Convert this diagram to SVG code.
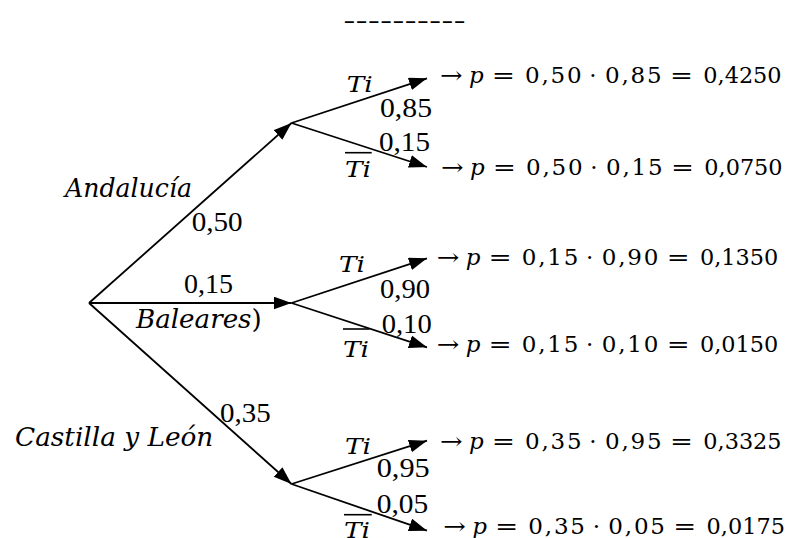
<svg xmlns="http://www.w3.org/2000/svg" width="791" height="538" viewBox="0 0 791 538">
<style>
.ln{stroke:#000;stroke-width:1.8;fill:none}
.ov{stroke:#000;stroke-width:1.6}
.f{font-family:"DejaVu Serif","Liberation Serif",serif;font-size:23px;fill:#000}
.fi{font-style:italic}
.lab{font-family:"Liberation Serif",serif;font-size:27px;fill:#000}
.it{font-family:"DejaVu Serif","Liberation Serif",serif;font-style:italic;fill:#000}
.reg{font-size:26px}
.ti{font-size:22px}
</style>
<defs>
<marker id="ah" markerUnits="userSpaceOnUse" markerWidth="20" markerHeight="14" refX="18" refY="6.5" orient="auto">
<path d="M0,0 L18,6.5 L0,13 Z" fill="#000"/>
</marker>
</defs>
<rect width="791" height="538" fill="#fff"/>

<text x="343.3" y="27.7" textLength="122.4" lengthAdjust="spacingAndGlyphs" style="font-family:'Liberation Sans',sans-serif;font-size:22px">----------</text>

<g id="connectors">
<line class="ln" x1="89" y1="303" x2="291.5" y2="123" marker-end="url(#ah)"/>
<line class="ln" x1="89" y1="303" x2="291.5" y2="303" marker-end="url(#ah)"/>
<line class="ln" x1="89" y1="303" x2="291.5" y2="484" marker-end="url(#ah)"/>
<line class="ln" x1="291.5" y1="123" x2="427" y2="78.3" marker-end="url(#ah)"/>
<line class="ln" x1="291.5" y1="123" x2="427" y2="167" marker-end="url(#ah)"/>
<line class="ln" x1="291.5" y1="303" x2="427" y2="258.3" marker-end="url(#ah)"/>
<line class="ln" x1="291.5" y1="303" x2="427" y2="347.3" marker-end="url(#ah)"/>
<line class="ln" x1="291.5" y1="484" x2="427" y2="440.7" marker-end="url(#ah)"/>
<line class="ln" x1="291.5" y1="484" x2="427" y2="530.7" marker-end="url(#ah)"/>
</g>

<g id="edge-labels">
<text class="it reg" x="65" y="196.7" textLength="127" lengthAdjust="spacingAndGlyphs">Andalucía</text>
<text class="lab" x="191.7" y="231" textLength="51" lengthAdjust="spacingAndGlyphs">0,50</text>
<text class="lab" x="184" y="293" textLength="49" lengthAdjust="spacingAndGlyphs">0,15</text>
<text class="it reg" x="136" y="328" textLength="125.7" lengthAdjust="spacingAndGlyphs">Baleares<tspan style="font-style:normal">)</tspan></text>
<text class="lab" x="220" y="421.7" textLength="50.7" lengthAdjust="spacingAndGlyphs">0,35</text>
<text class="it reg" x="15" y="446" textLength="198.3" lengthAdjust="spacingAndGlyphs">Castilla y León</text>
</g>

<g id="branch-a">
<text class="it ti" x="346.7" y="91.7" textLength="26" lengthAdjust="spacingAndGlyphs">Ti</text>
<text class="lab" x="380" y="116.7" textLength="52" lengthAdjust="spacingAndGlyphs">0,85</text>
<text class="lab" x="379" y="150.7" textLength="51" lengthAdjust="spacingAndGlyphs">0,15</text>
<line class="ov" x1="345" y1="152.7" x2="371.7" y2="152.7"/>
<text class="it ti" x="345" y="176.7" textLength="26" lengthAdjust="spacingAndGlyphs">Ti</text>
</g>

<g id="branch-b">
<text class="it ti" x="339" y="271.7" textLength="26" lengthAdjust="spacingAndGlyphs">Ti</text>
<text class="lab" x="380" y="298" textLength="50" lengthAdjust="spacingAndGlyphs">0,90</text>
<text class="lab" x="381.7" y="333" textLength="50" lengthAdjust="spacingAndGlyphs">0,10</text>
<line class="ov" x1="343" y1="329" x2="369.5" y2="329"/>
<text class="it ti" x="343" y="356.7" textLength="26" lengthAdjust="spacingAndGlyphs">Ti</text>
</g>

<g id="branch-c">
<text class="it ti" x="345" y="454" textLength="26" lengthAdjust="spacingAndGlyphs">Ti</text>
<text class="lab" x="376.7" y="477.3" textLength="53" lengthAdjust="spacingAndGlyphs">0,95</text>
<text class="lab" x="376.7" y="513" textLength="51.5" lengthAdjust="spacingAndGlyphs">0,05</text>
<line class="ov" x1="344" y1="514.7" x2="371.7" y2="514.7"/>
<text class="it ti" x="344" y="537.5" textLength="26" lengthAdjust="spacingAndGlyphs">Ti</text>
</g>

<g id="result-a1" class="f" transform="translate(440,83.3)">
<text x="0" textLength="22.7" lengthAdjust="spacingAndGlyphs">→</text>
<text class="fi" x="29">p</text>
<text x="51.7" textLength="23.3" lengthAdjust="spacingAndGlyphs">=</text>
<text x="85" textLength="56.7">0,50</text>
<text x="153" text-anchor="middle">·</text>
<text x="165" textLength="56.7">0,85</text>
<text x="230" textLength="23" lengthAdjust="spacingAndGlyphs">=</text>
<text x="263.3" textLength="78.3" lengthAdjust="spacingAndGlyphs">0,4250</text>
</g>
<g id="result-a2" class="f" transform="translate(441,175)">
<text x="0" textLength="22.7" lengthAdjust="spacingAndGlyphs">→</text>
<text class="fi" x="29">p</text>
<text x="51.7" textLength="23.3" lengthAdjust="spacingAndGlyphs">=</text>
<text x="85" textLength="56.7">0,50</text>
<text x="153" text-anchor="middle">·</text>
<text x="165" textLength="56.7">0,15</text>
<text x="230" textLength="23" lengthAdjust="spacingAndGlyphs">=</text>
<text x="263.3" textLength="78.3" lengthAdjust="spacingAndGlyphs">0,0750</text>
</g>
<g id="result-b1" class="f" transform="translate(436.7,265)">
<text x="0" textLength="22.7" lengthAdjust="spacingAndGlyphs">→</text>
<text class="fi" x="29">p</text>
<text x="51.7" textLength="23.3" lengthAdjust="spacingAndGlyphs">=</text>
<text x="85" textLength="56.7">0,15</text>
<text x="153" text-anchor="middle">·</text>
<text x="165" textLength="56.7">0,90</text>
<text x="230" textLength="23" lengthAdjust="spacingAndGlyphs">=</text>
<text x="263.3" textLength="78.3" lengthAdjust="spacingAndGlyphs">0,1350</text>
</g>
<g id="result-b2" class="f" transform="translate(436.7,351.7)">
<text x="0" textLength="22.7" lengthAdjust="spacingAndGlyphs">→</text>
<text class="fi" x="29">p</text>
<text x="51.7" textLength="23.3" lengthAdjust="spacingAndGlyphs">=</text>
<text x="85" textLength="56.7">0,15</text>
<text x="153" text-anchor="middle">·</text>
<text x="165" textLength="56.7">0,10</text>
<text x="230" textLength="23" lengthAdjust="spacingAndGlyphs">=</text>
<text x="263.3" textLength="78.3" lengthAdjust="spacingAndGlyphs">0,0150</text>
</g>
<g id="result-c1" class="f" transform="translate(440,448.7)">
<text x="0" textLength="22.7" lengthAdjust="spacingAndGlyphs">→</text>
<text class="fi" x="29">p</text>
<text x="51.7" textLength="23.3" lengthAdjust="spacingAndGlyphs">=</text>
<text x="85" textLength="56.7">0,35</text>
<text x="153" text-anchor="middle">·</text>
<text x="165" textLength="56.7">0,95</text>
<text x="230" textLength="23" lengthAdjust="spacingAndGlyphs">=</text>
<text x="263.3" textLength="78.3" lengthAdjust="spacingAndGlyphs">0,3325</text>
</g>
<g id="result-c2" class="f" transform="translate(443.3,534)">
<text x="0" textLength="22.7" lengthAdjust="spacingAndGlyphs">→</text>
<text class="fi" x="29">p</text>
<text x="51.7" textLength="23.3" lengthAdjust="spacingAndGlyphs">=</text>
<text x="85" textLength="56.7">0,35</text>
<text x="153" text-anchor="middle">·</text>
<text x="165" textLength="56.7">0,05</text>
<text x="230" textLength="23" lengthAdjust="spacingAndGlyphs">=</text>
<text x="263.3" textLength="78.3" lengthAdjust="spacingAndGlyphs">0,0175</text>
</g>
</svg>
